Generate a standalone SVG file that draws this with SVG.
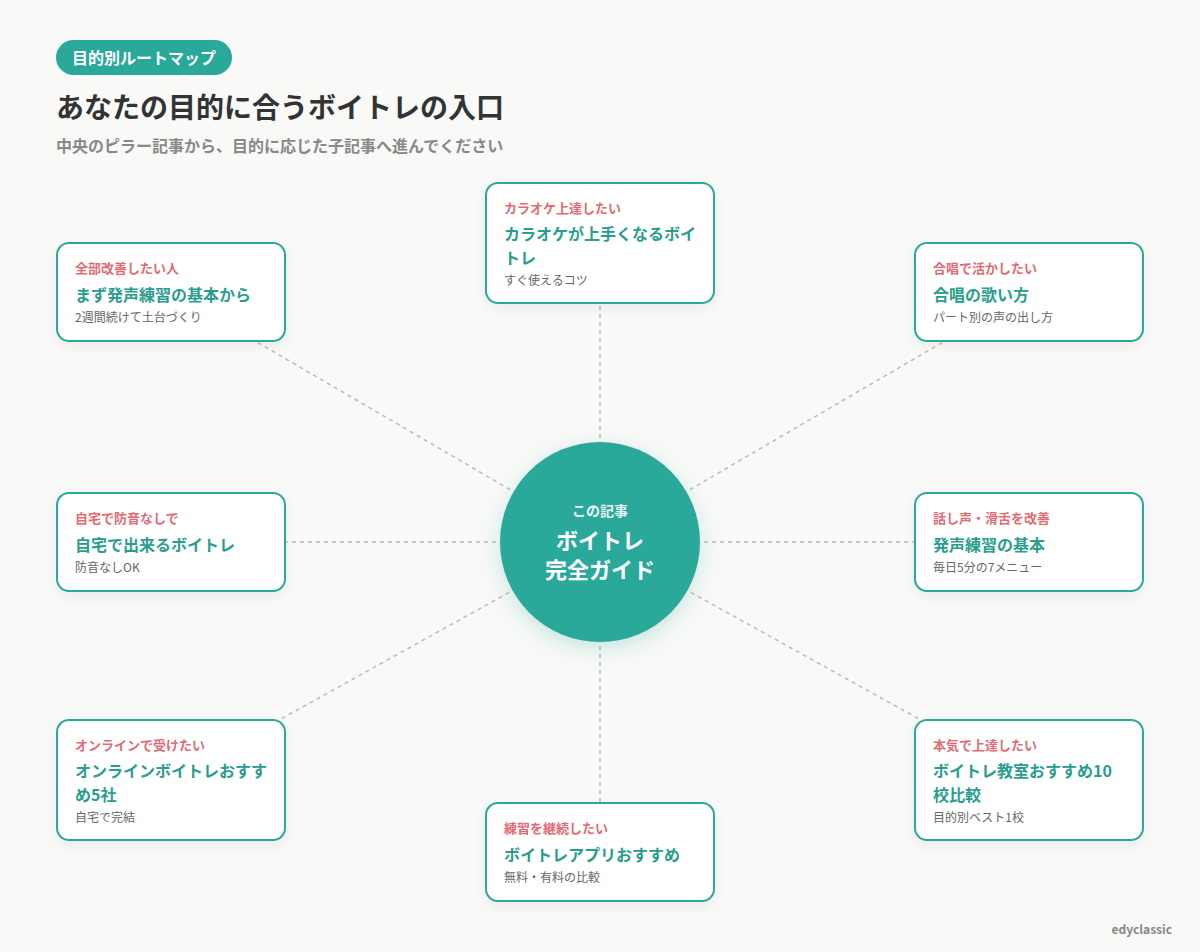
<svg xmlns="http://www.w3.org/2000/svg" width="1200" height="952" viewBox="0 0 1200 952">
<defs>
<filter id="sh" x="-20%" y="-20%" width="140%" height="150%">
<feDropShadow dx="0" dy="4" stdDeviation="6" flood-color="#000" flood-opacity="0.06"/>
</filter>
<filter id="csh" x="-30%" y="-30%" width="160%" height="160%">
<feDropShadow dx="0" dy="6" stdDeviation="10" flood-color="#2aa99b" flood-opacity="0.25"/>
</filter>
<style>
text{font-family:"Noto Sans CJK JP","Noto Sans",sans-serif}
.card{fill:#fff;stroke:#2aa99b;stroke-width:2}
.lab{font-size:13px;font-weight:700;fill:#e06b75}
.ttl{font-size:16px;font-weight:700;fill:#2a9d8f}
.sub{font-size:12px;fill:#666}
.con{stroke:#b5beb9;stroke-width:1.5;stroke-dasharray:4 4;fill:none}
</style>
</defs>
<rect width="1200" height="952" fill="#f9f9f7"/>
<g id="header">
<rect x="56" y="40" width="176" height="35" rx="17.5" fill="#2aa99b"/>
<text x="144" y="63.5" text-anchor="middle" font-size="16" font-weight="700" fill="#fff">目的別ルートマップ</text>
<text x="56" y="118" font-size="28" font-weight="700" fill="#333">あなたの目的に合うボイトレの入口</text>
<text x="56" y="152" font-size="16" font-weight="700" fill="#888">中央のピラー記事から、目的に応じた子記事へ進んでください</text>
</g>
<g id="connectors">
<line class="con" x1="600" y1="542" x2="600" y2="243"/>
<line class="con" x1="600" y1="542" x2="171" y2="292"/>
<line class="con" x1="600" y1="542" x2="1029" y2="292"/>
<line class="con" x1="600" y1="542" x2="171" y2="542"/>
<line class="con" x1="600" y1="542" x2="1029" y2="542"/>
<line class="con" x1="600" y1="542" x2="171" y2="780"/>
<line class="con" x1="600" y1="542" x2="1029" y2="780"/>
<line class="con" x1="600" y1="542" x2="600" y2="852"/>
</g>
<g id="center">
<circle cx="600" cy="542" r="100" fill="#2aa99b" filter="url(#csh)"/>
<text x="600" y="516" text-anchor="middle" font-size="14" font-weight="700" fill="#e8f6f4">この記事</text>
<text x="600" y="549" text-anchor="middle" font-size="22" font-weight="700" fill="#fff">ボイトレ</text>
<text x="600" y="578" text-anchor="middle" font-size="22" font-weight="700" fill="#fff">完全ガイド</text>
</g>
<g id="node-karaoke">
<rect class="card" x="486" y="183" width="228" height="120" rx="12" filter="url(#sh)"/>
<text class="lab" x="504" y="213">カラオケ上達したい</text>
<text class="ttl" x="504" y="240">カラオケが上手くなるボイ</text>
<text class="ttl" x="504" y="264">トレ</text>
<text class="sub" x="504" y="285">すぐ使えるコツ</text>
</g>
<g id="node-basic">
<rect class="card" x="57" y="243" width="228" height="98" rx="12" filter="url(#sh)"/>
<text class="lab" x="75" y="273">全部改善したい人</text>
<text class="ttl" x="75" y="301">まず発声練習の基本から</text>
<text class="sub" x="75" y="322">2週間続けて土台づくり</text>
</g>
<g id="node-chorus">
<rect class="card" x="915" y="243" width="228" height="98" rx="12" filter="url(#sh)"/>
<text class="lab" x="933" y="273">合唱で活かしたい</text>
<text class="ttl" x="933" y="301">合唱の歌い方</text>
<text class="sub" x="933" y="322">パート別の声の出し方</text>
</g>
<g id="node-home">
<rect class="card" x="57" y="493" width="228" height="98" rx="12" filter="url(#sh)"/>
<text class="lab" x="75" y="523">自宅で防音なしで</text>
<text class="ttl" x="75" y="551">自宅で出来るボイトレ</text>
<text class="sub" x="75" y="572">防音なしOK</text>
</g>
<g id="node-speech">
<rect class="card" x="915" y="493" width="228" height="98" rx="12" filter="url(#sh)"/>
<text class="lab" x="933" y="523">話し声・滑舌を改善</text>
<text class="ttl" x="933" y="551">発声練習の基本</text>
<text class="sub" x="933" y="572">毎日5分の7メニュー</text>
</g>
<g id="node-online">
<rect class="card" x="57" y="720" width="228" height="120" rx="12" filter="url(#sh)"/>
<text class="lab" x="75" y="750">オンラインで受けたい</text>
<text class="ttl" x="75" y="777">オンラインボイトレおすす</text>
<text class="ttl" x="75" y="801">め5社</text>
<text class="sub" x="75" y="822">自宅で完結</text>
</g>
<g id="node-school">
<rect class="card" x="915" y="720" width="228" height="120" rx="12" filter="url(#sh)"/>
<text class="lab" x="933" y="750">本気で上達したい</text>
<text class="ttl" x="933" y="777">ボイトレ教室おすすめ10</text>
<text class="ttl" x="933" y="801">校比較</text>
<text class="sub" x="933" y="822">目的別ベスト1校</text>
</g>
<g id="node-app">
<rect class="card" x="486" y="803" width="228" height="98" rx="12" filter="url(#sh)"/>
<text class="lab" x="504" y="833">練習を継続したい</text>
<text class="ttl" x="504" y="861">ボイトレアプリおすすめ</text>
<text class="sub" x="504" y="882">無料・有料の比較</text>
</g>
<text x="1172" y="934" text-anchor="end" font-size="12" font-weight="700" fill="#888">edyclassic</text>
</svg>
